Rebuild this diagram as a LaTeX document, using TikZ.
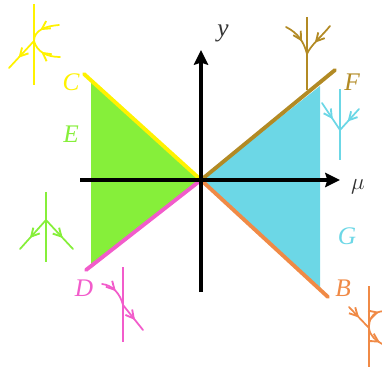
\documentclass[tikz,border=0pt]{standalone}
\usepackage{fontspec}
\setmainfont{Liberation Serif}
\usetikzlibrary{arrows.meta,decorations.markings}
\definecolor{cyel}{HTML}{FFF200}
\definecolor{cgrn}{HTML}{86EF3A}
\definecolor{cblu}{HTML}{6CD7E6}
\definecolor{cbrn}{HTML}{B28A24}
\definecolor{cpnk}{HTML}{F25CCB}
\definecolor{corg}{HTML}{F08A46}
\tikzset{
  x=0.75pt,y=-0.75pt,
  axisline/.style={line width=2.5pt,black,-{Stealth[length=11pt,width=10.5pt,inset=1.5pt]}},
  bound/.style={line width=2.9pt,line cap=round},
  phase/.style={line width=1.3pt},
  flow/.style={line width=1.3pt,line cap=round,postaction={decorate},decoration={markings,mark=at position #1 with {\arrow[line width=1.4pt]{Straight Barb[length=6pt,width=6.5pt]}}}},
  flow/.default=0.55,
  lab/.style={font=\itshape\fontsize{19}{19}\selectfont,inner sep=0pt}
}
\begin{document}
\begin{tikzpicture}
\useasboundingbox (0,0) rectangle (382,367);
\coordinate (O) at (201,180);
\fill[cgrn] (91,82) -- (O) -- (91,268) -- cycle;
\fill[cblu] (320,86) -- (O) -- (320,288) -- cycle;
\coordinate (Cend) at (84,74);
\coordinate (Dend) at (86,270);
\coordinate (Fend) at (335,70);
\coordinate (Bend) at (328,297);
\draw[bound,cyel] (Cend) -- (O);
\draw[bound,cpnk] (Dend) -- (O);
\draw[bound,cbrn] (Fend) -- (O);
\draw[bound,corg] (Bend) -- (O);
\coordinate (xs) at (80,180); \coordinate (xe) at (340,180);
\coordinate (ys) at (201,292); \coordinate (ye) at (201,50);
\draw[axisline] (xs) -- (xe);
\draw[axisline] (ys) -- (ye);
\node[lab,text=black!80] (ly) at (223,33) {$\mathit{y}$};
\node[lab,text=black!80] (lmu) at (358,187) {$\mu$};
\node[lab,text=cyel] (lC) at (71,82) {C};
\node[lab,text=cgrn] (lE) at (71,134) {E};
\node[lab,text=cpnk] (lD) at (84,288) {D};
\node[lab,text=cbrn] (lF) at (352,82) {F};
\node[lab,text=cblu] (lG) at (347,236) {G};
\node[lab,text=corg] (lB) at (343,288) {B};
% yellow: saddle-node
\coordinate (yp) at (34,41);
\draw[phase,cyel] (34,4) -- (34,85);
\draw[flow=0.62,cyel] (yp) -- (9,68);
\draw[flow=0.6,cyel] (59,25) .. controls (46,26) and (34,30) .. (yp);
\draw[flow=0.6,cyel] (60,57) .. controls (47,57) and (37,52) .. (yp);
% brown: stable node
\coordinate (bp) at (307,54);
\draw[phase,cbrn] (307,17) -- (307,90);
\draw[flow=0.62,cbrn] (286,27) .. controls (298,33) and (304,42) .. (bp);
\draw[flow=0.62,cbrn] (330,26) .. controls (322,36) and (310,46) .. (bp);
% blue: stable node
\coordinate (cp) at (340,130);
\draw[phase,cblu] (340,89) -- (340,160);
\draw[flow=0.6,cblu] (322,103) -- (cp);
\draw[flow=0.6,cblu] (359,109) -- (cp);
% green: unstable node
\coordinate (gp) at (46,220);
\draw[phase,cgrn] (46,192) -- (46,262);
\draw[flow=0.62,cgrn] (gp) -- (20,249);
\draw[flow=0.62,cgrn] (gp) -- (73,249);
% pink
\coordinate (pp) at (123,305);
\draw[phase,cpnk] (123,267) -- (123,342);
\draw[flow=0.5,cpnk] (102,284) .. controls (112,285) and (120,293) .. (pp);
\draw[flow=0.6,cpnk] (pp) -- (143,330);
% orange
\coordinate (op) at (369,328);
\draw[phase,corg] (369,286) -- (369,367);
\draw[flow=0.5,corg] (349,307) -- (op);
\draw[flow=0.8,corg] (op) .. controls (369,319) and (372,312) .. (384,311);
\draw[flow=0.8,corg] (op) .. controls (370,336) and (375,340) .. (384,345);
\end{tikzpicture}
\end{document}
